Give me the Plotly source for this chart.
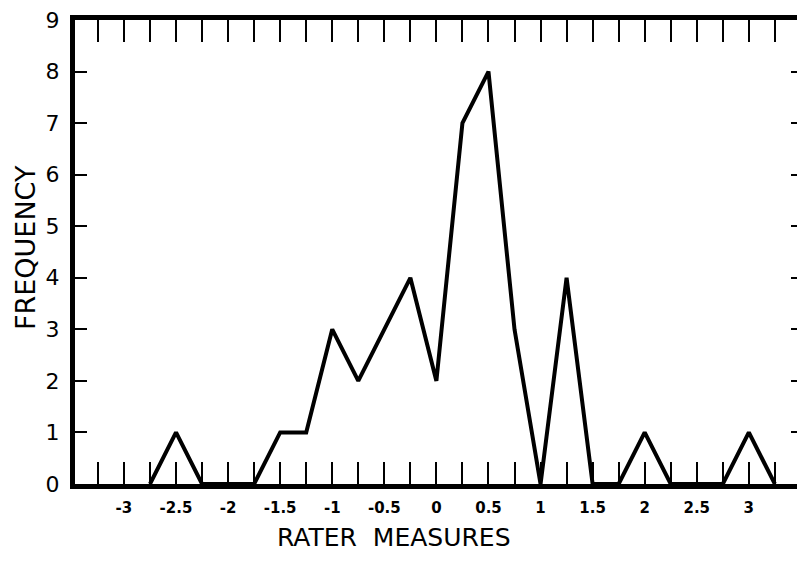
import plotly.graph_objects as go

rater_measures = [-2.75, -2.5, -2.25, -2.0, -1.75, -1.5, -1.25, -1.0, -0.75, -0.5, -0.25,
                  0.0, 0.25, 0.5, 0.75, 1.0, 1.25, 1.5, 1.75, 2.0, 2.25, 2.5, 2.75, 3.0, 3.25]
frequency = [0, 1, 0, 0, 0, 1, 1, 3, 2, 3, 4, 2, 7, 8, 3, 0, 4, 0, 0, 1, 0, 0, 0, 1, 0]

x_tick_vals = [-3.25, -3.0, -2.75, -2.5, -2.25, -2.0, -1.75, -1.5, -1.25, -1.0, -0.75, -0.5, -0.25,
               0.0, 0.25, 0.5, 0.75, 1.0, 1.25, 1.5, 1.75, 2.0, 2.25, 2.5, 2.75, 3.0, 3.25]
x_tick_text = ["", "-3", "", "-2.5", "", "-2", "", "-1.5", "", "-1", "", "-0.5", "",
               "0", "", "0.5", "", "1", "", "1.5", "", "2", "", "2.5", "", "3", ""]
y_tick_vals = [0, 1, 2, 3, 4, 5, 6, 7, 8, 9]
y_tick_text = ["0", "1", "2", "3", "4", "5", "6", "7", "8", "9"]

FONT = "DejaVu Sans"

fig = go.Figure()
fig.add_trace(go.Scatter(
    x=rater_measures, y=frequency, mode="lines",
    line=dict(color="black", width=4),
    showlegend=False, cliponaxis=False,
))

fig.update_layout(
    width=797, height=556,
    margin=dict(l=67, r=2, t=12, b=80, autoexpand=False),
    paper_bgcolor="white", plot_bgcolor="white",
    font=dict(family=FONT, color="black"),
    annotations=[
        dict(text="RATER\u00a0\u00a0MEASURES", xref="paper", yref="paper",
             x=(394 - 75) / 728, y=-(537 - 484) / 464, xanchor="center", yanchor="middle",
             showarrow=False, font=dict(family=FONT, size=25, color="black")),
        dict(text="FREQUENCY", xref="paper", yref="paper",
             x=-(75 - 25) / 728, y=(484 - 248) / 464, xanchor="center", yanchor="middle",
             textangle=-90, showarrow=False, font=dict(family=FONT, size=27, color="black")),
    ],
)
fig.update_xaxes(
    range=[-3.47, 3.52], automargin=False,
    tickmode="array", tickvals=x_tick_vals, ticktext=x_tick_text,
    ticks="inside", ticklen=22, tickwidth=2, tickcolor="black",
    showline=True, linewidth=5, linecolor="black", mirror="ticks",
    showgrid=False, zeroline=False,
    tickfont=dict(family=FONT, size=15, color="black", weight="bold"),
    ticklabelstandoff=6, ticklabeloverflow="allow",
)
fig.update_yaxes(
    range=[0, 9], automargin=False,
    tickmode="array", tickvals=y_tick_vals, ticktext=y_tick_text,
    ticks="inside", ticklen=12, tickwidth=2, tickcolor="black",
    showline=True, linewidth=5, linecolor="black", mirror="ticks",
    showgrid=False, zeroline=False,
    tickfont=dict(family=FONT, size=22, color="black"),
    ticklabelstandoff=6, ticklabeloverflow="allow",
)

fig.write_html("out.html")
